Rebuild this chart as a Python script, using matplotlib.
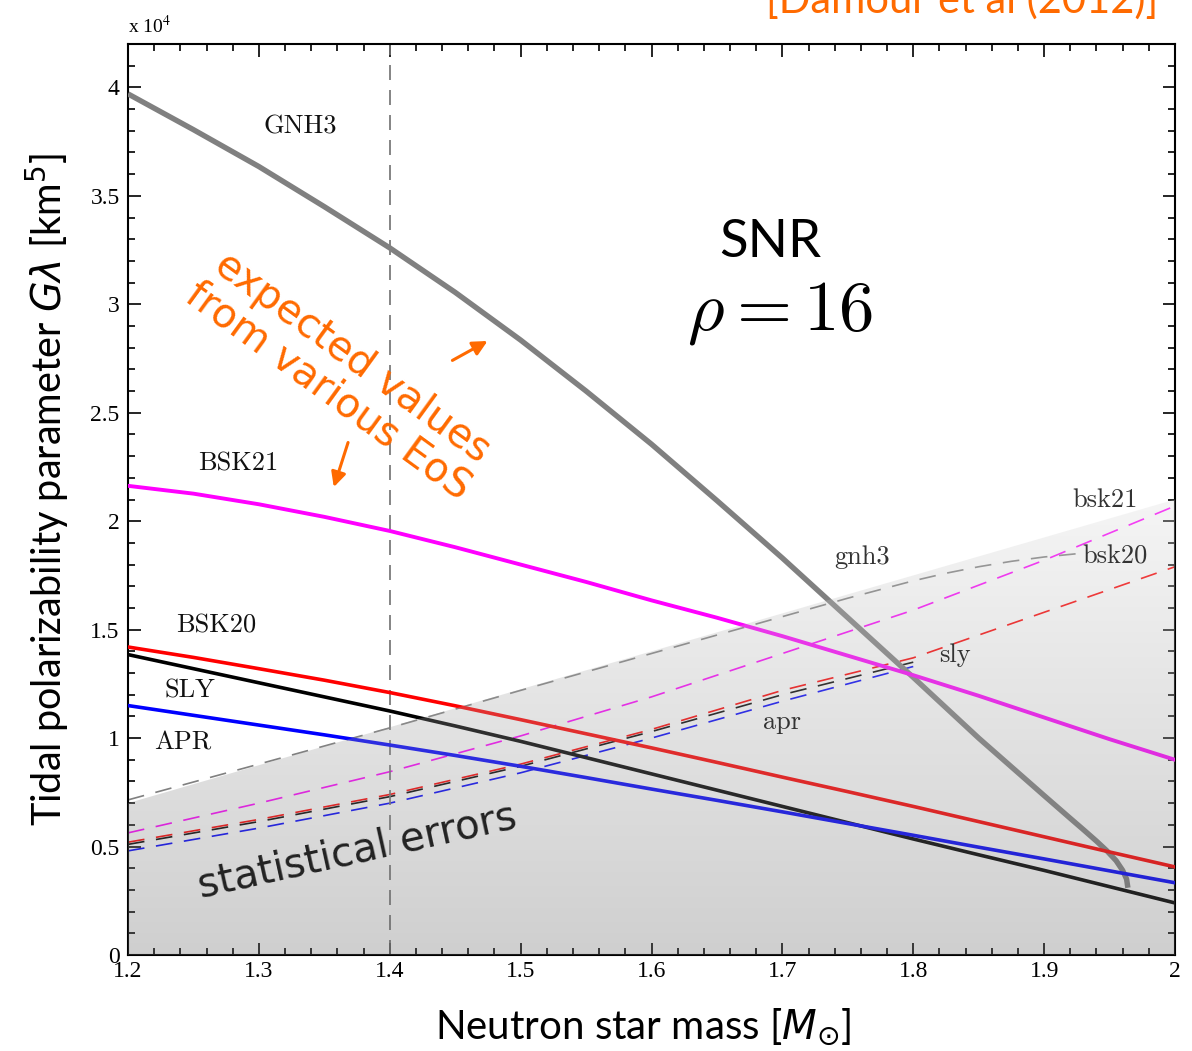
#!/usr/bin/env python3
import numpy as np
import matplotlib
matplotlib.use('Agg')
import matplotlib.pyplot as plt
from matplotlib.patches import Polygon
from matplotlib.ticker import MultipleLocator, FormatStrFormatter

# solid curves: tidal polarizability (units of 1e4 km^5) vs mass
mass = [1.2, 1.25, 1.3, 1.35, 1.4, 1.45, 1.5, 1.55, 1.6, 1.65, 1.7, 1.75,
        1.8, 1.85, 1.9, 1.95, 2.0]
bsk21 = [2.163, 2.127, 2.078, 2.02, 1.955, 1.88, 1.80, 1.72, 1.635, 1.555,
         1.47, 1.38, 1.29, 1.195, 1.095, 0.995, 0.90]
bsk20 = [1.42, 1.372, 1.32, 1.267, 1.21, 1.149, 1.085, 1.02, 0.955, 0.888,
         0.82, 0.753, 0.685, 0.615, 0.545, 0.475, 0.406]
sly = [1.385, 1.32, 1.255, 1.19, 1.125, 1.056, 0.985, 0.91, 0.835, 0.76,
       0.685, 0.61, 0.535, 0.462, 0.39, 0.315, 0.24]
apr = [1.15, 1.105, 1.06, 1.015, 0.968, 0.92, 0.87, 0.818, 0.765, 0.713,
       0.66, 0.606, 0.552, 0.497, 0.443, 0.388, 0.333]

gnh3_m = [1.2, 1.25, 1.3, 1.35, 1.4, 1.45, 1.5, 1.55, 1.6, 1.65, 1.7, 1.75,
          1.8, 1.85, 1.9, 1.92, 1.93, 1.94, 1.948, 1.955, 1.96, 1.963, 1.964]
gnh3 = [3.97, 3.805, 3.635, 3.45, 3.26, 3.055, 2.835, 2.60, 2.355, 2.095, 1.83,
        1.555, 1.28, 1.00, 0.735, 0.63, 0.578, 0.525, 0.48, 0.435, 0.39, 0.35, 0.31]

# dashed curves: statistical errors
gnh3_err_m = [1.2, 1.3, 1.4, 1.5, 1.6, 1.7, 1.75, 1.8, 1.825, 1.85, 1.875, 1.9, 1.925]
gnh3_err = [0.715, 0.88, 1.047, 1.22, 1.39, 1.56, 1.645, 1.725, 1.76, 1.79,
            1.815, 1.835, 1.85]
err_m = [1.2, 1.3, 1.4, 1.5, 1.6, 1.7, 1.8, 1.9, 2.0]
bsk21_err = [0.563, 0.70, 0.845, 1.01, 1.19, 1.39, 1.59, 1.82, 2.07]
bsk20_err = [0.52, 0.625, 0.74, 0.88, 1.04, 1.22, 1.37, 1.58, 1.79]
err_m_short = [1.2, 1.3, 1.4, 1.5, 1.6, 1.7, 1.8]
sly_err = [0.51, 0.615, 0.73, 0.87, 1.03, 1.20, 1.35]
apr_err = [0.48, 0.585, 0.70, 0.84, 1.00, 1.17, 1.33]

# shaded band: upper edge
band_m = [1.2, 2.0]
band_top = [0.70, 2.10]

orange = '#ff6a00'
serif = 'Liberation Serif'
cm = 'cmr10'
sans = 'Lato'

fig = plt.figure(figsize=(11.92, 10.51), dpi=100)
ax = fig.add_axes([128/1192, 1-955/1051, (1175-128)/1192, (955-44)/1051])

ax.plot(gnh3_m, gnh3, color='#808080', lw=3.9, zorder=3, solid_capstyle='butt')
ax.plot(mass, bsk21, color='#ff00ff', lw=2.8, zorder=3)
ax.plot(mass, bsk20, color='#ff0000', lw=2.6, zorder=3)
ax.plot(mass, sly, color='black', lw=2.6, zorder=3)
ax.plot(mass, apr, color='#0000ff', lw=2.6, zorder=3)

dash = (0, (10, 7))
ax.plot(gnh3_err_m, gnh3_err, color='#808080', lw=1.2, ls=dash, zorder=2)
ax.plot(err_m, bsk21_err, color='#ff00ff', lw=1.2, ls=dash, zorder=2)
ax.plot(err_m, bsk20_err, color='#ff0000', lw=1.2, ls=dash, zorder=2)
ax.plot(err_m_short, sly_err, color='black', lw=1.2, ls=dash, zorder=2)
ax.plot(err_m_short, apr_err, color='#0000ff', lw=1.2, ls=dash, zorder=2)

ax.axvline(1.4, color='#707070', lw=1.2, ls=(0, (9, 6)), zorder=2)

# translucent gradient over the band
n = 256
shade = np.linspace(95, 222, n) / 255.0
img = np.zeros((n, 2, 4))
img[:, :, 0] = shade[:, None]
img[:, :, 1] = shade[:, None]
img[:, :, 2] = shade[:, None]
img[:, :, 3] = 0.3
im = ax.imshow(img, extent=[band_m[0], band_m[1], 0, band_top[1]],
               origin='lower', aspect='auto', zorder=4, interpolation='bilinear')
poly = Polygon([(band_m[0], 0), (band_m[0], band_top[0]),
                (band_m[1], band_top[1]), (band_m[1], 0)],
               closed=True, transform=ax.transData, facecolor='none', edgecolor='none')
ax.add_patch(poly)
im.set_clip_path(poly)

ax.set_xlim(1.2, 2.0)
ax.set_ylim(0, 4.2)
ax.xaxis.set_major_locator(MultipleLocator(0.1))
ax.xaxis.set_minor_locator(MultipleLocator(0.02))
ax.yaxis.set_major_locator(MultipleLocator(0.5))
ax.yaxis.set_minor_locator(MultipleLocator(0.1))
ax.xaxis.set_major_formatter(FormatStrFormatter('%g'))
ax.yaxis.set_major_formatter(FormatStrFormatter('%g'))
ax.tick_params(which='both', direction='in', top=True, right=True, width=1.2)
ax.tick_params(which='major', length=9, labelsize=17, pad=4)
ax.tick_params(axis='y', which='major', pad=6)
ax.tick_params(which='minor', length=5)
for lab in ax.get_xticklabels() + ax.get_yticklabels():
    lab.set_fontfamily(serif)
for s in ax.spines.values():
    s.set_linewidth(1.5)

ax.text(1.2, 4.23, 'x 10$^4$', fontsize=14, family=serif, ha='left', va='bottom',
        math_fontfamily='stix')

# curve labels
for x, y, t in [(1.3314, 3.82, 'GNH3'), (1.284, 2.265, 'BSK21'), (1.267, 1.517, 'BSK20'),
                (1.247, 1.218, 'SLY'), (1.242, 0.978, 'APR')]:
    ax.text(x, y, t, fontsize=19, family=cm, ha='center', va='center', color='#111111', zorder=6)
for x, y, t in [(1.7607, 1.836, 'gnh3'), (1.9464, 2.099, 'bsk21'), (1.954, 1.836, 'bsk20'),
                (1.832, 1.384, 'sly'), (1.6996, 1.075, 'apr')]:
    ax.text(x, y, t, fontsize=19, family=cm, ha='center', va='center', color='#333333', zorder=6)

ax.text(1.6904, 3.284, 'SNR', fontsize=38, family=sans, ha='center', va='center', zorder=6)
ax.text(1.698, 2.961, r'$\rho = 16$', fontsize=51, math_fontfamily='cm',
        ha='center', va='center', zorder=6)

ax.text(1.362, 2.675, 'expected values\nfrom various EoS', fontsize=29, color=orange,
        family='DejaVu Sans', rotation=-36, rotation_mode='anchor', ha='center',
        va='center', multialignment='center', linespacing=1.05, zorder=6)
ax.text(1.375, 0.475, 'statistical errors', fontsize=29, color='#222222',
        family='DejaVu Sans', rotation=12.5, rotation_mode='anchor', ha='center',
        va='center', zorder=6)

arrow = dict(arrowstyle='-|>', color=orange, lw=2.2, mutation_scale=22)
ax.annotate('', xy=(1.4766, 2.837), xytext=(1.446, 2.735), arrowprops=arrow, zorder=6)
ax.annotate('', xy=(1.3566, 2.145), xytext=(1.3688, 2.375), arrowprops=arrow, zorder=6)

fig.text(47/1192, 1-490/1051, r'Tidal polarizability parameter $G\lambda$ [km$^5$]',
         fontsize=28.5, family=sans, rotation=90, ha='center', va='center',
         math_fontfamily='dejavusans')
fig.text(643/1192, 1-1027/1051, r'Neutron star mass [$M_{\odot}$]', fontsize=29,
         family=sans, ha='center', va='center', math_fontfamily='dejavusans')

fig.text(1158/1192, 1-13/1051, '[Damour et al (2012)]', fontsize=30, family=sans,
         color=orange, ha='right', va='baseline')

fig.savefig('out.png', dpi=100)
